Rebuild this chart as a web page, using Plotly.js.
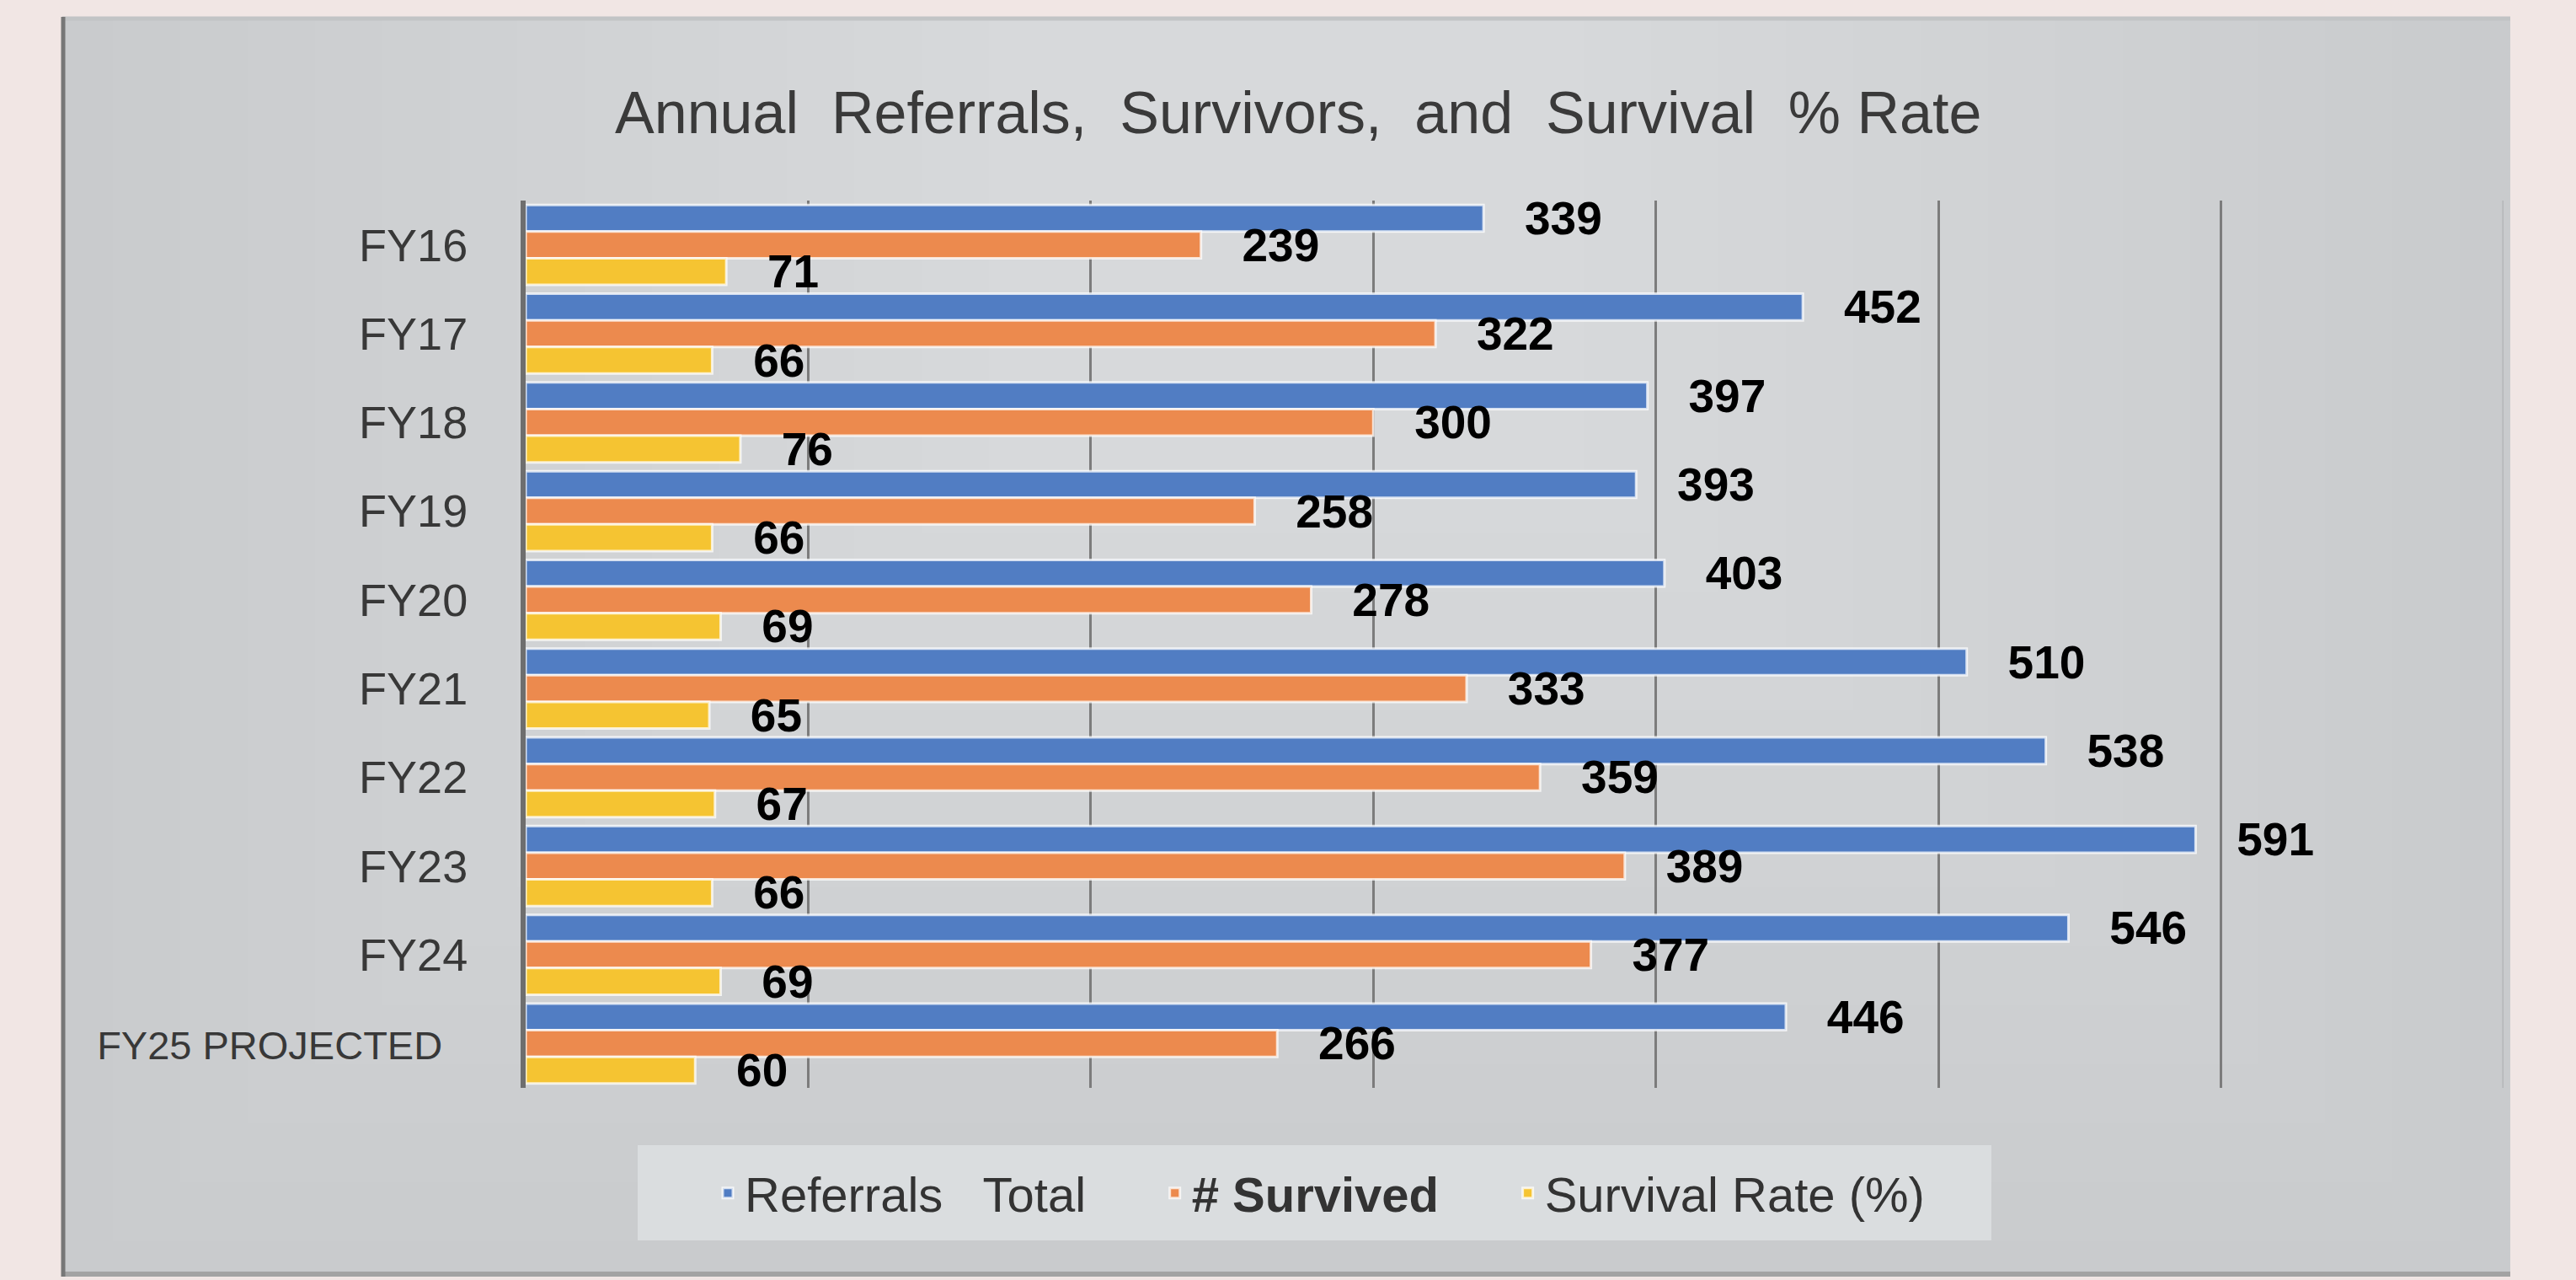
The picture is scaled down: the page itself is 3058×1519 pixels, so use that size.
<!DOCTYPE html>
<html>
<head>
<meta charset="utf-8">
<script src="https://cdn.plot.ly/plotly-3.0.1.min.js"></script>
<style>
  html, body { margin: 0; padding: 0; background: #f1e6e4; }
  #chart { width: 3058px; height: 1519px; }
</style>
</head>
<body>
<div id="chart"></div>
<script>
// ---- data ----
const categories = ['FY16', 'FY17', 'FY18', 'FY19', 'FY20', 'FY21', 'FY22', 'FY23', 'FY24', 'FY25 PROJECTED'];
const categoryLabels = ['FY16', 'FY17', 'FY18', 'FY19', 'FY20', 'FY21', 'FY22', 'FY23', 'FY24',
  '<span style="font-size:47px">FY25 PROJECTED</span>\u00a0\u00a0'];
const referralsTotal = [339, 452, 397, 393, 403, 510, 538, 591, 546, 446];
const survived = [239, 322, 300, 258, 278, 333, 359, 389, 377, 266];
const survivalRate = [71, 66, 76, 66, 69, 65, 67, 66, 69, 60];
const seriesNames = ['Referrals\u00a0\u00a0 Total\u00a0\u00a0\u00a0\u00a0\u00a0',
  '<b># Survived\u00a0\u00a0\u00a0\u00a0\u00a0</b>', 'Survival Rate (%)'];
const seriesColors = ['#517dc3', '#ec8a4e', '#f5c432'];
const titleText = 'Annual\u00a0 Referrals,\u00a0 Survivors,\u00a0 and\u00a0 Survival\u00a0 % Rate';

// ---- layout geometry ----
const W = 3058, H = 1519;
const M = { l: 624, r: 86, t: 238, b: 228 };
const pw = W - M.l - M.r, ph = H - M.t - M.b;
const px2x = px => (px - M.l) / pw;
const px2y = py => (H - M.b - py) / ph;

const FONT = 'Liberation Sans, Arial, sans-serif';

const seriesValues = [referralsTotal, survived, survivalRate];
const traces = seriesValues.map((vals, i) => ({
  type: 'bar',
  orientation: 'h',
  name: seriesNames[i],
  y: categories,
  x: vals,
  marker: { color: seriesColors[i], line: { color: 'rgba(255,255,255,0.75)', width: 3 } },
  text: vals.map(v => '\u00a0\u00a0\u00a0' + v),
  textposition: 'outside',
  constraintext: 'none',
  cliponaxis: false,
  textfont: { family: FONT, size: 55, color: '#000000', weight: 'bold' },
  hoverinfo: 'x+y'
}));

// panel background: base + soft lighter centre (many faint nested rects)
const shapes = [
  { type: 'rect', xref: 'paper', yref: 'paper', layer: 'below',
    x0: px2x(74), x1: px2x(2980), y0: px2y(1513), y1: px2y(20),
    fillcolor: '#c9cbcd', line: { width: 0 } }
];
for (let k = 0; k < 14; k++) {
  const insetX = 60 + k * 80, insetBottom = 40 + k * 70;
  shapes.push({ type: 'rect', xref: 'paper', yref: 'paper', layer: 'below',
    x0: px2x(74 + insetX), x1: px2x(2980 - insetX),
    y0: px2y(1513 - insetBottom), y1: px2y(24),
    fillcolor: 'rgba(255,255,255,0.028)', line: { width: 0 } });
}
shapes.push(
  { type: 'line', xref: 'paper', yref: 'paper', layer: 'below',
    x0: px2x(74), x1: px2x(2980), y0: px2y(22), y1: px2y(22),
    line: { color: '#c2c4c5', width: 5 } },
  { type: 'line', xref: 'paper', yref: 'paper', layer: 'below',
    x0: px2x(74), x1: px2x(2980), y0: px2y(1512), y1: px2y(1512),
    line: { color: '#a3a3a3', width: 6 } },
  { type: 'line', xref: 'paper', yref: 'paper', layer: 'below',
    x0: px2x(75), x1: px2x(75), y0: px2y(1515), y1: px2y(20),
    line: { color: '#777777', width: 5 } },
  // legend box
  { type: 'rect', xref: 'paper', yref: 'paper', layer: 'below',
    x0: px2x(757), x1: px2x(2364), y0: px2y(1472), y1: px2y(1359),
    fillcolor: '#dadddf', line: { width: 0 } },
  // faint last gridline at the axis end
  { type: 'line', xref: 'x', yref: 'paper', layer: 'below',
    x0: 700, x1: 700, y0: 0, y1: 1,
    line: { color: '#b4b6b8', width: 3 } }
);

const layout = {
  width: W, height: H,
  margin: M,
  paper_bgcolor: '#f1e6e4',
  plot_bgcolor: 'rgba(0,0,0,0)',
  font: { family: FONT, color: '#404040' },
  title: {
    text: titleText,
    font: { family: FONT, size: 70, color: '#3a3a3a' },
    xref: 'container', x: 0.504, xanchor: 'center',
    yref: 'container', y: 1 - 133 / H, yanchor: 'middle'
  },
  barmode: 'group',
  bargap: 0.1,
  bargroupgap: 0,
  xaxis: {
    range: [0, 700], dtick: 100, tick0: 0,
    showgrid: true, gridcolor: '#7c7c7c', gridwidth: 3,
    zeroline: false, showline: false, showticklabels: false, ticks: '',
    fixedrange: true
  },
  yaxis: {
    type: 'category',
    autorange: 'reversed',
    tickvals: categories,
    ticktext: categoryLabels,
    tickfont: { family: FONT, size: 54, color: '#383838' },
    ticks: '',
    ticklabelstandoff: 52,
    showline: true, linecolor: '#6e6e6e', linewidth: 6,
    showgrid: false, zeroline: false,
    fixedrange: true
  },
  legend: {
    orientation: 'h',
    xref: 'container', x: 844 / W, xanchor: 'left',
    yref: 'container', y: 1 - 1416 / H, yanchor: 'middle',
    bgcolor: 'rgba(0,0,0,0)',
    font: { family: FONT, size: 58, color: '#333333' },
    traceorder: 'normal',
    itemclick: false, itemdoubleclick: false
  },
  shapes: shapes,
  showlegend: true
};

Plotly.newPlot('chart', traces, layout, { displayModeBar: false, staticPlot: true });
</script>
</body>
</html>
